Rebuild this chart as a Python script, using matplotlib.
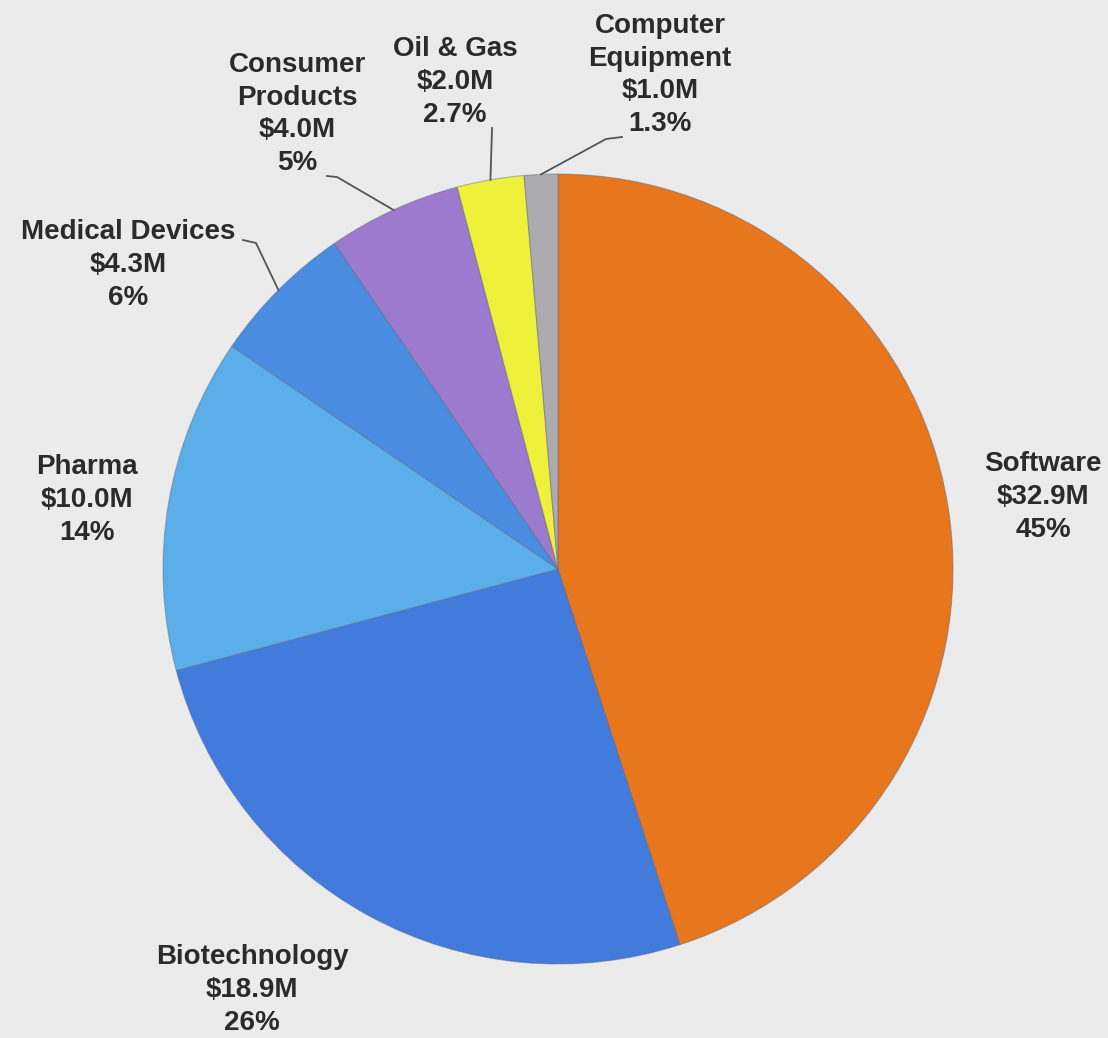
import numpy as np
import matplotlib.pyplot as plt

# Investment by sector, clockwise from 12 o'clock
sectors = ["Software", "Biotechnology", "Pharma", "Medical Devices",
           "Consumer\nProducts", "Oil & Gas", "Computer\nEquipment"]
amounts = [32.9, 18.9, 10.0, 4.3, 4.0, 2.0, 1.0]  # $M
shares = ["45%", "26%", "14%", "6%", "5%", "2.7%", "1.3%"]
colors = ["#E8761C", "#437BDC", "#5BAEEA", "#4A8DE0", "#9C7BCF", "#EEF03A", "#ABABB0"]

W, H = 1108, 1038
BG = "#EBEBEB"
cx, cy, r = 558, H - 569, 395

fig = plt.figure(figsize=(W / 100, H / 100), dpi=100, facecolor=BG)
ax = fig.add_axes([0, 0, 1, 1])
ax.set_facecolor(BG)

wedges, _ = ax.pie(amounts, colors=colors, startangle=90, counterclock=False,
                   center=(cx, cy), radius=r,
                   wedgeprops=dict(edgecolor=(0.35, 0.4, 0.5, 0.45), linewidth=0.8))

ax.set_xlim(0, W)
ax.set_ylim(0, H)
ax.set_aspect("equal")
ax.axis("off")

# label centers (x, y from top)
label_pos = [(1043, 497), (252, 990), (87, 500), (128, 265),
             (297, 114), (455, 82), (660, 75)]

for name, amt, pct, (lx, ly) in zip(sectors, amounts, shares, label_pos):
    ax.text(lx, H - ly, f"{name}\n${amt:.1f}M\n{pct}", ha="center", va="center",
            fontsize=20, fontweight="bold", family="Liberation Sans",
            color="#2b2b2b", linespacing=1.33)

# leader lines for the small slices: label end -> elbow -> slice edge
leaders = {3: [(243, 240), (256, 243)],
           4: [(327, 176), (337, 177)],
           5: [(492, 128), (492, 130)],
           6: [(622, 137), (606, 139)]}
for i, pts in leaders.items():
    w = wedges[i]
    mid = np.deg2rad((w.theta1 + w.theta2) / 2)
    ex, ey = cx + r * np.cos(mid), cy + r * np.sin(mid)
    xs = [p[0] for p in pts] + [ex]
    ys = [H - p[1] for p in pts] + [ey]
    ax.plot(xs, ys, color="#555555", lw=1.3)

fig.savefig("out.png", dpi=100, facecolor=BG)
